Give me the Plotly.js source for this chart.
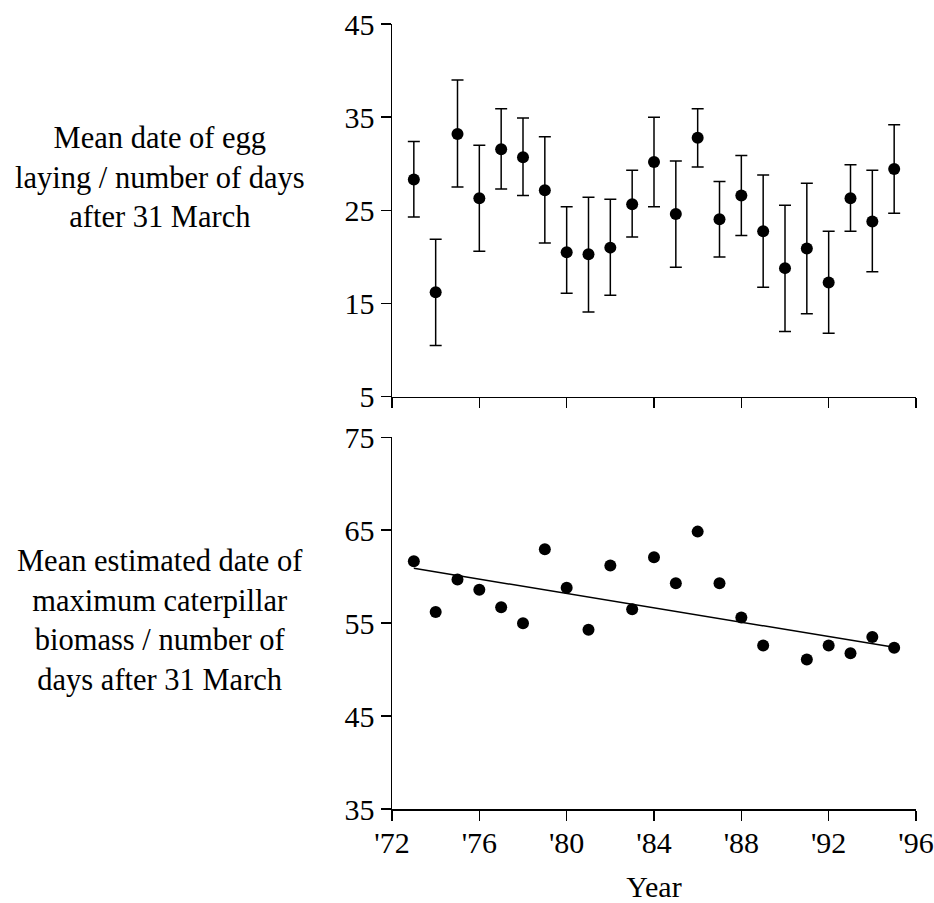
<!DOCTYPE html>
<html>
<head>
<meta charset="utf-8">
<script src="https://cdn.plot.ly/plotly-3.0.1.min.js"></script>
<style>html,body{margin:0;padding:0;background:#fff;}</style>
</head>
<body>
<div id="chart" style="width:934px;height:903px;"></div>
<script>
// Top panel: mean egg-laying date with error bars
var years = [1973,1974,1975,1976,1977,1978,1979,1980,1981,1982,1983,1984,1985,1986,1987,1988,1989,1990,1991,1992,1993,1994,1995];
var eggMean  = [28.3,16.2,33.2,26.3,31.55,30.7,27.15,20.5,20.3,21.0,25.65,30.2,24.6,32.8,24.05,26.6,22.75,18.8,20.9,17.25,26.3,23.8,29.45];
var eggUpper = [32.4,21.9,39.0,32.0,35.9,34.9,32.9,25.4,26.4,26.2,29.3,35.0,30.3,35.9,28.1,30.9,28.8,25.55,27.9,22.75,29.9,29.3,34.2];
var eggLower = [24.3,10.5,27.5,20.6,27.3,26.6,21.5,16.1,14.1,15.9,22.15,25.4,18.9,29.65,20.0,22.3,16.75,12.0,13.9,11.8,22.75,18.4,24.7];

// Bottom panel: caterpillar biomass peak date (no value for 1990)
var catYears = [1973,1974,1975,1976,1977,1978,1979,1980,1981,1982,1983,1984,1985,1986,1987,1988,1989,1991,1992,1993,1994,1995];
var catPeak  = [61.65,56.2,59.7,58.6,56.7,55.0,62.95,58.8,54.3,61.2,56.5,62.1,59.3,64.85,59.3,55.6,52.6,51.1,52.6,51.75,53.5,52.35];

// Fitted trend line endpoints
var trendYears  = [1973, 1995];
var trendValues = [60.9, 52.4];

// Axis ticks
var xTickVals  = [1972,1976,1980,1984,1988,1992,1996];
var xTickText  = ["'72","'76","'80","'84","'88","'92","'96"];
var yTopTicks  = [5,15,25,35,45];
var yBotTicks  = [35,45,55,65,75];

var FONT = "Liberation Serif, Times New Roman, serif";

var errPlus  = eggUpper.map(function(u,i){ return u - eggMean[i]; });
var errMinus = eggMean.map(function(m,i){ return m - eggLower[i]; });

var traces = [
  {
    x: years, y: eggMean, xaxis: 'x2', yaxis: 'y2',
    type: 'scatter', mode: 'markers',
    marker: {color: '#000', size: 12},
    error_y: {type: 'data', symmetric: false, array: errPlus, arrayminus: errMinus,
              color: '#000', thickness: 1.5, width: 6},
    showlegend: false
  },
  {
    x: catYears, y: catPeak, xaxis: 'x', yaxis: 'y',
    type: 'scatter', mode: 'markers',
    marker: {color: '#000', size: 12},
    showlegend: false
  },
  {
    x: trendYears, y: trendValues, xaxis: 'x', yaxis: 'y',
    type: 'scatter', mode: 'lines',
    line: {color: '#000', width: 1.5},
    showlegend: false
  }
];

var axisCommon = {
  showline: true, linecolor: '#000', linewidth: 1.5,
  ticks: 'outside', ticklen: 10, tickwidth: 1.5, tickcolor: '#000',
  showgrid: false, zeroline: false,
  tickfont: {family: FONT, size: 30, color: '#000'}
};

function ax(extra){ var o = {}; for (var k in axisCommon) o[k] = axisCommon[k]; for (var k2 in extra) o[k2] = extra[k2]; return o; }

var layout = {
  width: 934, height: 903,
  margin: {l: 392, r: 18, t: 24, b: 94},
  paper_bgcolor: '#fff', plot_bgcolor: '#fff',
  font: {family: FONT, color: '#000'},
  xaxis: ax({anchor: 'y', range: [1972, 1996], tickmode: 'array', tickvals: xTickVals, ticktext: xTickText,
             ticklabelstandoff: -4,
             title: {text: 'Year', font: {family: FONT, size: 30, color: '#000'}, standoff: 22}}),
  xaxis2: ax({anchor: 'y2', range: [1972, 1996], tickmode: 'array', tickvals: xTickVals, showticklabels: false}),
  yaxis: ax({anchor: 'x', domain: [0, 0.4735], range: [35, 75], tickmode: 'array', tickvals: yBotTicks}),
  yaxis2: ax({anchor: 'x2', domain: [0.5252, 1], range: [5, 45], tickmode: 'array', tickvals: yTopTicks}),
  annotations: [
    {
      xref: 'paper', yref: 'paper', x: -0.4437, y: 0.805,
      xanchor: 'center', yanchor: 'middle', align: 'center', showarrow: false,
      text: 'Mean date of egg<br>laying / number of days<br>after 31 March',
      font: {family: FONT, size: 30.5, color: '#000'}
    },
    {
      xref: 'paper', yref: 'paper', x: -0.4437, y: 0.2395,
      xanchor: 'center', yanchor: 'middle', align: 'center', showarrow: false,
      text: 'Mean estimated date of<br>maximum caterpillar<br>biomass / number of<br>days after 31 March',
      font: {family: FONT, size: 30.5, color: '#000'}
    }
  ]
};

Plotly.newPlot('chart', traces, layout, {displayModeBar: false, staticPlot: true});
</script>
</body>
</html>
